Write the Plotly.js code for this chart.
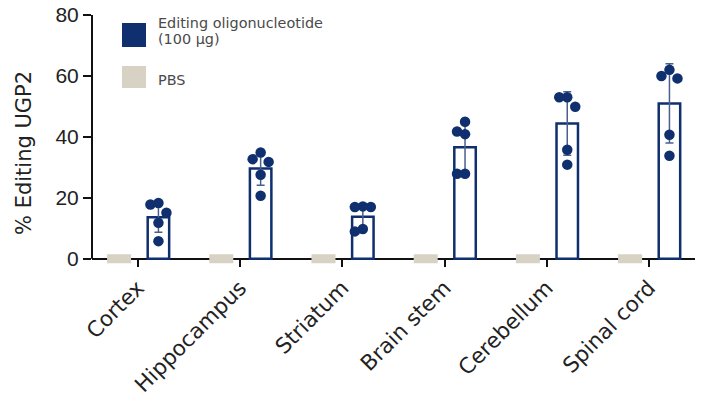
<!DOCTYPE html>
<html><head><meta charset="utf-8">
<script src="https://cdn.plot.ly/plotly-3.0.1.min.js"></script>
<style>html,body{margin:0;padding:0;background:#fff}</style>
</head><body><div id="chart" style="width:701px;height:402px"></div>
<script>
// ---- data ----
const categories = ["Cortex", "Hippocampus", "Striatum", "Brain stem", "Cerebellum", "Spinal cord"];
const editingMean = [13.6, 29.6, 13.8, 36.6, 44.4, 51.0];
const editingSD = [4.9, 5.5, 4.2, 8.2, 10.4, 13.0];
const pbsMean = [0, 0, 0, 0, 0, 0];
const pointsCortex = [18.3, 17.8, 15.1, 11.8, 5.8];
const pointsHippocampus = [34.9, 32.7, 31.8, 27.6, 20.7];
const pointsStriatum = [17.2, 17.0, 17.0, 9.8, 9.0];
const pointsBrainStem = [45.0, 41.8, 40.9, 27.9, 27.9];
const pointsCerebellum = [53.0, 53.0, 49.9, 35.8, 30.9];
const pointsSpinalCord = [62.0, 60.0, 59.2, 40.7, 33.8];
const yTicks = [0, 20, 40, 60, 80];
const yTitle = "% Editing UGP2";
const seriesNameEditing = ["Editing oligonucleotide", "(100 µg)"];
const seriesNamePBS = "PBS";

// ---- styling / layout ----
const NAVY = "#0f2f6e", BEIGE = "#d8d2c4", ERR = "#4b5f8d";
const W = 701, H = 402;
const M = {l: 92, r: 6, t: 15, b: 131};
const xRange = [-0.45, 5.45], yRange = [-4, 80];
const plotW = W - M.l - M.r, plotH = H - M.t - M.b;
const pxX = plotW / (xRange[1] - xRange[0]);
const pxY = plotH / (yRange[1] - yRange[0]);
const EDIT_OFF = 0.2, PBS_OFF = -0.185, EDIT_W = 0.21, PBS_W = 0.235;

const allPoints = [pointsCortex, pointsHippocampus, pointsStriatum, pointsBrainStem, pointsCerebellum, pointsSpinalCord];
const idx = categories.map((c, i) => i);

// simple beeswarm: spread overlapping dots sideways (pixel space)
function swarm(vals) {
  const STEP = 8, DY = 10;
  const order = vals.map((v, i) => i).sort((a, b) => vals[b] - vals[a]);
  const placed = [], res = new Array(vals.length);
  order.forEach(i => {
    const y = vals[i] * pxY;
    const cands = [0];
    for (let k = 1; k < 10; k++) { cands.push(-k * STEP, k * STEP); }
    for (const dx of cands) {
      const hit = placed.some(p => Math.abs(p.y - y) < DY && Math.abs(p.x - dx) < STEP);
      if (!hit) { placed.push({x: dx, y: y}); res[i] = dx / pxX; break; }
    }
  });
  return res;
}
const px = [], py = [];
allPoints.forEach((vals, i) => {
  const offs = swarm(vals);
  vals.forEach((v, j) => { px.push(i + EDIT_OFF + offs[j]); py.push(v); });
});

const traces = [
  {type: "bar", name: seriesNamePBS, x: idx, y: pbsMean, width: PBS_W, offset: PBS_OFF - PBS_W / 2,
   marker: {color: BEIGE, line: {color: BEIGE, width: 9}}, showlegend: false, hoverinfo: "skip"},
  {type: "bar", name: seriesNameEditing.join(" "), x: idx, y: editingMean, width: EDIT_W, offset: EDIT_OFF - EDIT_W / 2,
   marker: {color: "#ffffff", line: {color: NAVY, width: 2.5}},
   error_y: {type: "data", array: editingSD, visible: true, color: ERR, thickness: 1.5, width: 4},
   showlegend: false},
  {type: "scatter", mode: "markers", x: px, y: py, marker: {color: NAVY, size: 10.5},
   cliponaxis: false, showlegend: false}
];

function paperX(p) { return (p - M.l) / plotW; }
function paperY(p) { return (H - M.b - p) / plotH; }
const zeroPos = (0 - yRange[0]) / (yRange[1] - yRange[0]);
const legendFont = {family: "DejaVu Sans, Verdana, sans-serif", size: 14.4, color: "#4a4a4a"};

const layout = {
  width: W, height: H, margin: M, paper_bgcolor: "#fff", plot_bgcolor: "#fff",
  showlegend: false, barmode: "overlay",
  font: {family: "DejaVu Sans, sans-serif", color: "#222"},
  xaxis: {type: "linear", range: xRange, tickvals: idx, ticktext: categories, tickangle: -45,
    anchor: "free", position: zeroPos,
    ticks: "outside", ticklen: 7, tickwidth: 2, tickcolor: "#111", showline: true, linewidth: 2,
    linecolor: "#111", layer: "below traces", zeroline: false, showgrid: false, automargin: false,
    tickfont: {family: "DejaVu Sans, Verdana, sans-serif", size: 21.5, color: "#222"}},
  yaxis: {range: yRange, tickvals: yTicks, ticks: "outside", ticklen: 8, tickwidth: 2, tickcolor: "#111",
    showline: false, zeroline: false, showgrid: false, automargin: false,
    tickfont: {family: "Liberation Sans, Arial, sans-serif", size: 21, color: "#222"}},
  shapes: [
    {type: "line", xref: "paper", yref: "y", x0: 0, x1: 0, y0: 0, y1: yRange[1], line: {color: "#111", width: 2}},
    {type: "rect", xref: "paper", yref: "paper", x0: paperX(122), x1: paperX(146), y0: paperY(47), y1: paperY(23),
     fillcolor: NAVY, line: {width: 0}},
    {type: "rect", xref: "paper", yref: "paper", x0: paperX(122), x1: paperX(146), y0: paperY(88), y1: paperY(66),
     fillcolor: BEIGE, line: {width: 0}}
  ],
  annotations: [
    {xref: "paper", yref: "paper", x: paperX(24), y: paperY(153), xanchor: "center", yanchor: "middle",
     textangle: -90, text: yTitle, showarrow: false,
     font: {family: "DejaVu Sans, Verdana, sans-serif", size: 21, color: "#222"}},
    {xref: "paper", yref: "paper", x: paperX(156), y: paperY(23), xanchor: "left", yanchor: "middle", align: "left",
     text: seriesNameEditing[0], showarrow: false, font: legendFont},
    {xref: "paper", yref: "paper", x: paperX(156), y: paperY(39), xanchor: "left", yanchor: "middle", align: "left",
     text: seriesNameEditing[1], showarrow: false, font: legendFont},
    {xref: "paper", yref: "paper", x: paperX(156), y: paperY(80), xanchor: "left", yanchor: "middle", align: "left",
     text: seriesNamePBS, showarrow: false, font: legendFont}
  ]
};

Plotly.newPlot("chart", traces, layout, {displayModeBar: false, staticPlot: true});
</script>
</body></html>
